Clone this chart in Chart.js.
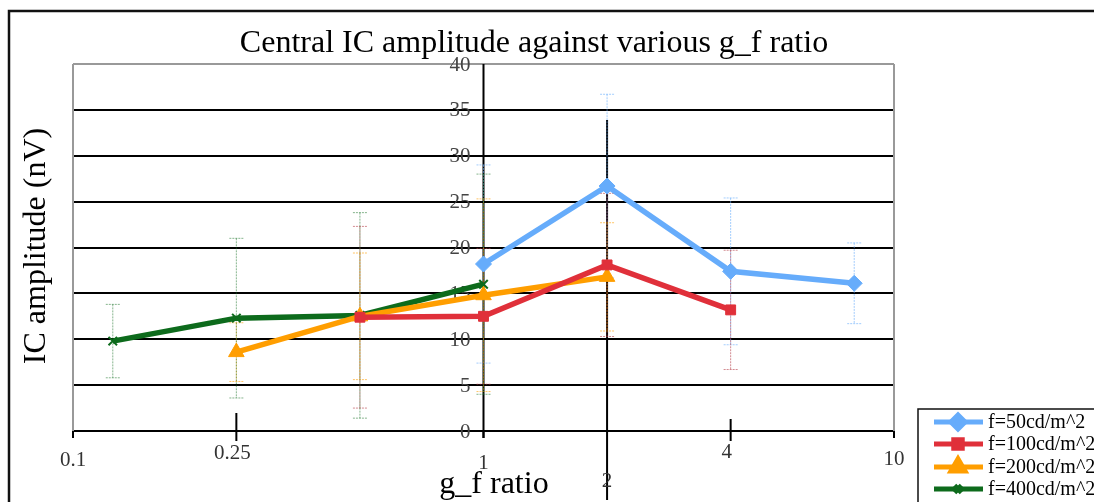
<!DOCTYPE html>
<html>
<head>
<meta charset="utf-8">
<script src="https://cdn.jsdelivr.net/npm/chart.js@4"></script>
<style>
  html, body { margin: 0; padding: 0; background: #fff; }
  #wrap { width: 1094px; height: 502px; }
</style>
</head>
<body>
<div id="wrap"><canvas id="myChart" width="1094" height="502"></canvas></div>
<script>
// series data (g_f ratio -> IC amplitude in nV, with +/- error)
var labels = ['f=50cd/m^2', 'f=100cd/m^2', 'f=200cd/m^2', 'f=400cd/m^2'];

var f50X = [1, 2, 4, 8];
var f50Y = [18.2, 26.7, 17.4, 16.1];
var f50Err = [10.8, 10.0, 8.0, 4.4];

var f100X = [0.5, 1, 2, 4];
var f100Y = [12.4, 12.5, 18.1, 13.2];
var f100Err = [9.9, 7.4, 7.8, 6.5];

var f200X = [0.25, 0.5, 1, 2];
var f200Y = [8.6, 12.5, 14.8, 16.8];
var f200Err = [3.2, 6.9, 10.5, 5.9];

var f400X = [0.125, 0.25, 0.5, 1];
var f400Y = [9.8, 12.3, 12.6, 16.0];
var f400Err = [4.0, 8.7, 11.2, 12.0];

// axis ticks
var xTicks = [0.1, 0.25, 1, 2, 4, 10];
var xTickLabels = ['0.1', '0.25', '1', '2', '4', '10'];
var yTicks = [0, 5, 10, 15, 20, 25, 30, 35, 40];

function pts(xs, ys) {
    return xs.map(function (x, i) { return { x: x, y: ys[i] }; });
}

var serif = '"Liberation Serif", "DejaVu Serif", serif';

var series = [
    { x: f50X, y: f50Y, err: f50Err, color: '#66acfb', errColor: 'rgba(102,172,251,0.6)', style: 'rectRot', r: 8 },
    { x: f100X, y: f100Y, err: f100Err, color: '#e0303a', errColor: 'rgba(180,60,70,0.6)', style: 'rect', r: 7 },
    { x: f200X, y: f200Y, err: f200Err, color: '#ff9e00', errColor: 'rgba(255,158,0,0.6)', style: 'triangle', r: 9 },
    { x: f400X, y: f400Y, err: f400Err, color: '#0d6b1c', errColor: 'rgba(13,107,28,0.5)', style: 'crossRot', r: 6 }
];

var datasets = series.map(function (s, i) {
    return {
        label: labels[i],
        data: pts(s.x, s.y),
        borderColor: s.color,
        backgroundColor: s.color,
        borderWidth: 5.5,
        pointStyle: s.style,
        pointRadius: s.r,
        pointBorderColor: s.color,
        pointBackgroundColor: s.color,
        pointBorderWidth: s.style === 'crossRot' ? 2 : 1,
        tension: 0,
        fill: false
    };
});

// error bars, axis at x=1, the odd tick marks
var underlay = {
    id: 'underlay',
    beforeDatasetsDraw: function (chart) {
        var ctx = chart.ctx, xs = chart.scales.x, ys = chart.scales.y, ca = chart.chartArea;
        ctx.save();
        // plot frame sides (gray)
        ctx.strokeStyle = '#999';
        ctx.lineWidth = 2;
        ctx.beginPath();
        ctx.moveTo(ca.left, ca.top); ctx.lineTo(ca.left, ca.bottom);
        ctx.moveTo(ca.right, ca.top); ctx.lineTo(ca.right, ca.bottom);
        ctx.stroke();

        // y axis line at x = 1
        var x1 = xs.getPixelForValue(1);
        ctx.strokeStyle = '#000';
        ctx.lineWidth = 2;
        ctx.beginPath();
        ctx.moveTo(x1, ca.top); ctx.lineTo(x1, ca.bottom + 7);
        ctx.stroke();

        // x ticks
        var tickSpan = { 0.1: [0, 7], 0.25: [-18, 10], 1: [0, 7], 2: [-311, 69], 4: [-12, 10], 10: [0, 7] };
        xTicks.forEach(function (v) {
            var px = xs.getPixelForValue(v);
            var sp = tickSpan[v];
            ctx.beginPath();
            ctx.moveTo(px, ca.bottom + sp[0]); ctx.lineTo(px, ca.bottom + sp[1]);
            ctx.stroke();
        });

        // y tick labels, left of the x = 1 axis
        ctx.fillStyle = '#444';
        ctx.font = '21px ' + serif;
        ctx.textAlign = 'right';
        ctx.textBaseline = 'middle';
        yTicks.forEach(function (v) {
            ctx.fillText(String(v), x1 - 13, ys.getPixelForValue(v) + 1);
        });

        // x tick labels (placed at uneven heights as in the original)
        var dy = [29, 22, 32, 50, 21, 28];
        var dx = [0, -4, 0, 0, -4, 0];
        ctx.fillStyle = '#333';
        ctx.textAlign = 'center';
        xTicks.forEach(function (v, i) {
            ctx.fillText(xTickLabels[i], xs.getPixelForValue(v) + dx[i], ca.bottom + dy[i]);
        });

        // error bars
        ctx.lineWidth = 1;
        ctx.setLineDash([2, 1]);
        series.forEach(function (s) {
            ctx.strokeStyle = s.errColor;
            s.x.forEach(function (xv, i) {
                var px = xs.getPixelForValue(xv);
                var top = ys.getPixelForValue(s.y[i] + s.err[i]);
                var bot = ys.getPixelForValue(Math.max(0, s.y[i] - s.err[i]));
                ctx.beginPath();
                ctx.moveTo(px, top); ctx.lineTo(px, bot);
                ctx.moveTo(px - 7, top); ctx.lineTo(px + 7, top);
                ctx.moveTo(px - 7, bot); ctx.lineTo(px + 7, bot);
                ctx.stroke();
            });
        });
        ctx.restore();
    },
    afterDraw: function (chart) {
        var ctx = chart.ctx;
        ctx.save();
        // outer frame
        ctx.strokeStyle = '#111';
        ctx.lineWidth = 2.5;
        ctx.strokeRect(9, 11, 1110, 520);

        // title and axis titles
        ctx.fillStyle = '#000';
        ctx.textAlign = 'center';
        ctx.textBaseline = 'middle';
        ctx.font = '32px ' + serif;
        ctx.fillText('Central IC amplitude against various g_f ratio', 534, 44);
        ctx.fillText('g_f ratio', 494, 485);
        ctx.save();
        ctx.translate(37, 246);
        ctx.rotate(-Math.PI / 2);
        ctx.fillText('IC amplitude (nV)', 0, 0);
        ctx.restore();

        // legend
        ctx.fillStyle = '#fff';
        ctx.fillRect(918, 409, 200, 120);
        ctx.strokeStyle = '#111';
        ctx.lineWidth = 1.5;
        ctx.strokeRect(918, 409, 200, 120);
        ctx.font = '20px ' + serif;
        ctx.textAlign = 'left';
        var rows = [422, 444, 467, 489];
        chart.data.datasets.forEach(function (d, i) {
            var y = rows[i];
            ctx.strokeStyle = d.borderColor;
            ctx.lineWidth = 5;
            ctx.beginPath();
            ctx.moveTo(934, y); ctx.lineTo(983, y);
            ctx.stroke();
            ctx.fillStyle = d.borderColor;
            Chart.helpers.drawPoint(ctx, {
                pointStyle: d.pointStyle, radius: d.pointRadius - 1, borderWidth: d.pointBorderWidth
            }, 958, y);
            ctx.fillStyle = '#000';
            ctx.fillText(d.label, 988, y + 1);
        });
        ctx.restore();
    }
};

var ctx = document.getElementById('myChart').getContext('2d');
var myChart = new Chart(ctx, {
    type: 'line',
    data: { datasets: datasets },
    options: {
        responsive: false,
        animation: false,
        layout: { padding: { left: 73, top: 64, right: 200, bottom: 71 } },
        plugins: { legend: { display: false }, title: { display: false }, tooltip: { enabled: false } },
        scales: {
            x: {
                type: 'logarithmic',
                min: 0.1,
                max: 10,
                ticks: { display: false },
                grid: { display: false, drawTicks: false },
                border: { display: true, color: '#000', width: 2 }
            },
            y: {
                min: 0,
                max: 40,
                ticks: { display: false, stepSize: 5 },
                grid: {
                    drawTicks: false,
                    lineWidth: 2,
                    color: function (c) { return c.tick && c.tick.value === 40 ? '#999' : '#000'; }
                },
                border: { display: false }
            }
        }
    },
    plugins: [underlay]
});
</script>
</body>
</html>
